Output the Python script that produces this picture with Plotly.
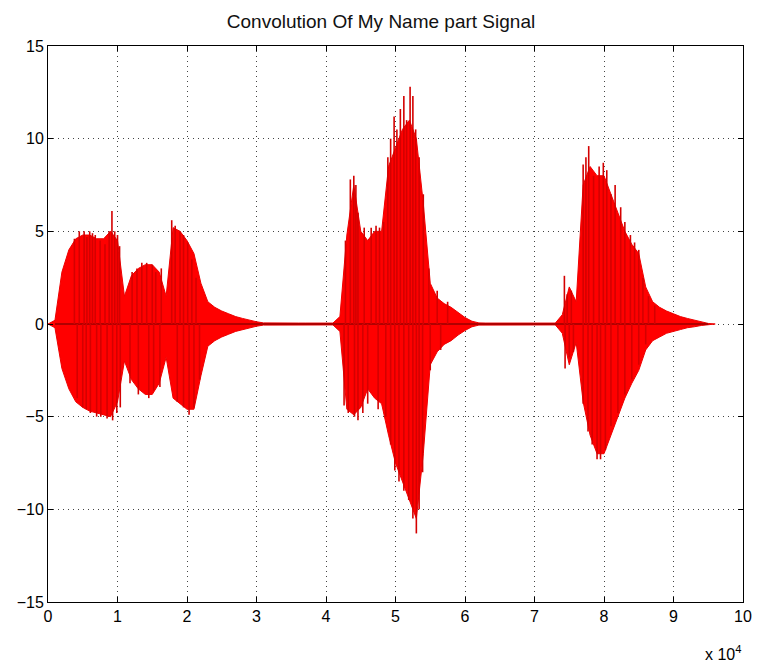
import plotly.graph_objects as go

# Core envelope of the convolved signal, sampled every 1000 samples
env_x = [i * 1000 for i in range(97)]
env_upper = [0, 0.2, 2.8, 4.0, 4.6, 4.8, 4.8, 4.6, 4.6, 5.0,
             4.5, 1.5, 2.6, 3.0, 3.2, 3.2, 2.8, 1.5, 5.2, 5.0,
             4.5, 3.8, 2.2, 1.2, 0.9, 0.7, 0.55, 0.4, 0.3, 0.2,
             0.12, 0.06, 0.05, 0.05, 0.05, 0.05, 0.05, 0.05, 0.05, 0.05,
             0.05, 0.05, 0.4, 4.8, 7.5, 5.0, 4.5, 5.0, 5.0, 8.5,
             9.5, 10.5, 11.0, 10.0, 6.5, 2.2, 1.4, 1.1, 0.9, 0.6,
             0.35, 0.15, 0.06, 0.05, 0.05, 0.05, 0.05, 0.05, 0.05, 0.05,
             0.05, 0.05, 0.05, 0.05, 0.5, 2.0, 1.2, 7.5, 8.5, 8.0,
             8.0, 7.0, 6.0, 5.0, 4.3, 3.8, 2.0, 1.2, 0.9, 0.7,
             0.55, 0.4, 0.3, 0.2, 0.1, 0.03, 0]
env_lower = [0, -0.2, -2.4, -3.5, -4.2, -4.5, -4.7, -4.8, -4.9, -5.0,
             -4.2, -2.0, -3.0, -3.5, -3.8, -3.8, -3.2, -1.8, -4.0, -4.3,
             -4.6, -4.6, -2.8, -1.2, -0.9, -0.7, -0.55, -0.4, -0.3, -0.2,
             -0.12, -0.06, -0.05, -0.05, -0.05, -0.05, -0.05, -0.05, -0.05, -0.05,
             -0.05, -0.05, -0.4, -4.6, -4.9, -4.5, -3.5, -4.0, -4.3, -6.0,
             -7.5, -8.5, -9.5, -10.5, -7.0, -2.2, -1.5, -1.1, -0.9, -0.6,
             -0.35, -0.15, -0.06, -0.05, -0.05, -0.05, -0.05, -0.05, -0.05, -0.05,
             -0.05, -0.05, -0.05, -0.05, -0.5, -2.2, -1.0, -4.2, -6.0, -7.0,
             -7.0, -6.0, -5.0, -4.0, -3.2, -2.5, -1.4, -0.9, -0.7, -0.5,
             -0.4, -0.3, -0.2, -0.15, -0.08, -0.03, 0]

# Individual peaks reaching beyond the envelope (sample index, amplitude)
spike_x = [3800, 4500, 5200, 5600, 6000, 6400, 6800, 7500, 8200, 8800, 9200, 9600, 10000, 10300,
           12100, 12800, 13500, 14200, 15000, 15500, 16300, 17800, 18300, 19000, 19500, 20100, 20700, 21300,
           4200, 5000, 5500, 6100, 7000, 7600, 8500, 9300, 9900, 10400, 11800, 13000, 14500, 15200, 16100,
           18600, 19500, 20300, 21000, 21800,
           42800, 43500, 44000, 44300, 44600, 45500, 46500, 47200, 47700, 48300, 48900, 49300, 49800,
           50200, 50700, 51200, 51600, 52100, 52500, 52900, 53400, 54000, 54800, 56000, 57500,
           42600, 43200, 44100, 44600, 45300, 46000, 47500, 48600, 49300, 49900, 50500, 51200, 51900,
           52500, 53000, 53400, 53900, 55000, 56500,
           74300, 74700, 75300, 77000, 77400, 77800, 78500, 79300, 79900, 80400, 81000, 81600,
           82400, 83000, 83800, 84400, 85000, 85600, 86400, 87300,
           74400, 75000, 75600, 77000, 77700, 78300, 79000, 79500, 80200, 81000, 82000, 83000,
           84000, 85000, 86000]
spike_y = [4.6, 5.0, 5.0, 4.7, 5.0, 4.9, 4.8, 4.5, 4.3, 5.0, 6.1, 5.0, 4.8, 4.2,
           2.8, 3.0, 3.3, 3.3, 3.2, 2.8, 3.0, 5.6, 5.3, 5.0, 4.8, 4.4, 3.5, 2.5,
           -4.0, -4.5, -4.6, -4.8, -5.0, -5.0, -5.1, -5.2, -4.8, -4.5, -3.2, -3.8, -4.0, -3.6, -3.4,
           -4.2, -4.5, -4.9, -4.5, -3.0,
           4.5, 7.8, 8.0, 7.5, 6.0, 5.2, 5.2, 5.3, 5.2, 5.5, 9.0, 10.0, 11.2,
           10.5, 11.6, 12.3, 11.0, 12.8, 12.3, 10.5, 9.0, 7.0, 3.0, 1.8, 1.2,
           -4.4, -4.8, -5.0, -5.2, -4.8, -4.3, -4.6, -5.0, -6.5, -7.9, -8.5, -9.0, -9.5,
           -10.5, -11.3, -10.0, -8.0, -2.5, -1.4,
           2.6, 1.6, 1.8, 8.6, 9.0, 9.6, 8.0, 8.5, 8.7, 8.3, 7.0, 7.5,
           6.3, 5.5, 4.8, 4.4, 4.0, 2.5, 1.5, 1.0,
           -2.4, -1.8, -1.5, -4.3, -5.8, -6.5, -7.3, -7.3, -6.8, -5.5, -4.8, -3.8,
           -3.0, -2.2, -1.1]

x_ticks = [i * 10000 for i in range(11)]
x_tick_text = [str(i) for i in range(11)]
y_ticks = [-15, -10, -5, 0, 5, 10, 15]

fig = go.Figure()

# filled waveform body: upper envelope forward, lower envelope back
fig.add_trace(go.Scatter(
    x=env_x + env_x[::-1],
    y=env_upper + env_lower[::-1],
    fill="toself", fillcolor="#ff0000",
    line=dict(color="#ee0000", width=1),
    mode="lines", hoverinfo="skip", showlegend=False,
))

# zero baseline through the silent stretches
fig.add_trace(go.Scatter(
    x=[env_x[1], env_x[-2]], y=[0, 0], mode="lines",
    line=dict(color="#b00000", width=2), showlegend=False, hoverinfo="skip",
))

# vertical spikes from the baseline to each peak
sx, sy = [], []
for xv, yv in zip(spike_x, spike_y):
    sx += [xv, xv, None]
    sy += [0, yv, None]
fig.add_trace(go.Scatter(
    x=sx, y=sy, mode="lines",
    line=dict(color="#d40000", width=1.6), showlegend=False, hoverinfo="skip",
))

font_family = "Liberation Sans, Arial, sans-serif"

axis_style = dict(
    showgrid=True, gridcolor="#444444", griddash="1px,4px", gridwidth=1,
    showline=True, linecolor="black", linewidth=1, mirror="allticks",
    ticks="inside", ticklen=5, tickcolor="black", zeroline=False,
    tickfont=dict(family=font_family, size=16, color="black"),
)

fig.update_layout(
    width=762, height=669,
    margin=dict(l=48, r=10, t=46, b=67),
    paper_bgcolor="white", plot_bgcolor="white",
    title=dict(text="Convolution Of My Name part Signal", x=0.5, xanchor="center",
               y=1 - 21 / 669, yanchor="middle",
               font=dict(family=font_family, size=19, color="#111111")),
    font=dict(family=font_family, size=16, color="black"),
    xaxis=dict(range=[0, 100000], tickvals=x_ticks, ticktext=x_tick_text, **axis_style),
    yaxis=dict(range=[-15, 15], tickvals=y_ticks, **axis_style),
    annotations=[dict(
        text="x 10<sup>4</sup>", xref="paper", yref="paper",
        x=1.0, y=-0.07, xanchor="right", yanchor="top", showarrow=False,
        font=dict(family=font_family, size=16, color="black"),
    )],
)

fig.write_html("out.html")
